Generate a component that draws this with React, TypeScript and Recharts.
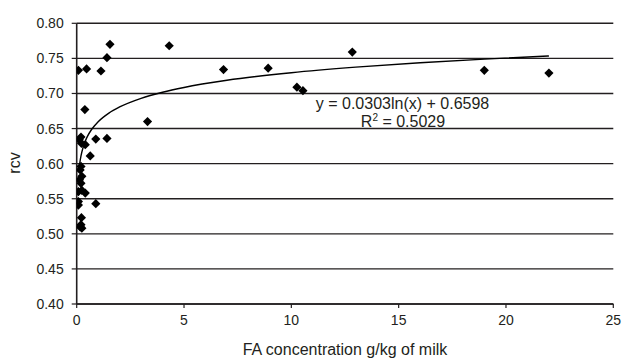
import React from "react";
import { ScatterChart, Scatter, XAxis, YAxis, CartesianGrid, Label } from "recharts";

const faConcentration = [
  0.08, 0.46, 1.13, 1.41, 1.55, 4.31, 0.38, 3.3, 0.2, 0.12, 0.4, 0.89, 1.41, 0.63, 0.22,
  0.2, 0.16, 0.24, 0.13, 0.2, 0.08, 0.24, 0.4, 0.08, 0.08, 0.89, 0.22, 0.2, 0.24, 0.16,
  6.84, 8.92, 10.26, 10.54, 12.84, 18.99, 22.0,
];
const rcvValues = [
  0.733, 0.735, 0.732, 0.751, 0.77, 0.768, 0.677, 0.66, 0.638, 0.634, 0.627, 0.635, 0.636, 0.611, 0.629,
  0.596, 0.591, 0.582, 0.577, 0.572, 0.56, 0.562, 0.558, 0.546, 0.541, 0.543, 0.523, 0.513, 0.508, 0.51,
  0.734, 0.736, 0.709, 0.704, 0.759, 0.733, 0.729,
];

const trendX = [0.1, 0.12, 0.15, 0.2, 0.3, 0.4, 0.5, 0.7, 1, 1.5, 2, 3, 4, 5, 7, 10, 13, 16, 19, 22];
const trendY = [
  0.59, 0.5956, 0.6023, 0.611, 0.6233, 0.632, 0.6388, 0.649, 0.6598, 0.6721, 0.6808, 0.6931,
  0.7018, 0.7086, 0.7188, 0.7296, 0.7375, 0.7438, 0.749, 0.7535,
];

const xTicks = [0, 5, 10, 15, 20, 25];
const yTicks = [0.4, 0.45, 0.5, 0.55, 0.6, 0.65, 0.7, 0.75, 0.8];

const equationText = "y = 0.0303ln(x) + 0.6598";
const r2Text = "= 0.5029";

const points = faConcentration.map((x, i) => ({ x, y: rcvValues[i] }));
const trend = trendX.map((x, i) => ({ x, y: trendY[i] }));

const FONT = "'Liberation Sans', Arial, Helvetica, sans-serif";
const INK = "#231f20";

const Diamond = (props: any) => {
  const { cx, cy } = props;
  if (cx == null || cy == null) return <g />;
  const r = 4.6;
  return (
    <path
      d={`M${cx},${cy - r}L${cx + r},${cy}L${cx},${cy + r}L${cx - r},${cy}Z`}
      fill="#000"
    />
  );
};

const NoDot = () => <g />;

export default function App() {
  return (
    <div style={{ position: "absolute", left: 0, top: 0, background: "#fff" }}>
      <ScatterChart
        width={622}
        height={358}
        margin={{ top: 23.3, right: 8.7, bottom: 24, left: 0 }}
        style={{ fontFamily: FONT }}
      >
        <CartesianGrid horizontal vertical={false} stroke={INK} strokeWidth={1.4} />
        <XAxis
          type="number"
          dataKey="x"
          height={30}
          domain={[0, 25]}
          ticks={xTicks}
          interval={0}
          allowDataOverflow
          tickSize={4}
          tickMargin={7}
          axisLine={{ stroke: INK, strokeWidth: 1.6 }}
          tickLine={{ stroke: INK, strokeWidth: 1.2 }}
          tick={{ fill: INK, fontSize: 14, fontFamily: FONT }}
        >
          <Label
            content={() => (
              <text
                x={345}
                y={355}
                textAnchor="middle"
                fill={INK}
                fontSize={16}
                fontFamily={FONT}
              >
                FA concentration g/kg of milk
              </text>
            )}
          />
        </XAxis>
        <YAxis
          type="number"
          dataKey="y"
          width={76.7}
          domain={[0.4, 0.8]}
          ticks={yTicks}
          interval={0}
          allowDataOverflow
          tickSize={5}
          tickMargin={8}
          tickFormatter={(v: number) => v.toFixed(2)}
          axisLine={{ stroke: INK, strokeWidth: 1.6 }}
          tickLine={{ stroke: INK, strokeWidth: 1.2 }}
          tick={{ fill: INK, fontSize: 14, fontFamily: FONT }}
        >
          <Label
            content={() => (
              <text
                x={20}
                y={163}
                transform="rotate(-90 20 163)"
                textAnchor="middle"
                fill={INK}
                fontSize={16}
                fontFamily={FONT}
              >
                rcv
              </text>
            )}
          />
        </YAxis>
        <Scatter
          data={trend}
          line={{ stroke: "#000", strokeWidth: 1.4 }}
          lineType="joint"
          lineJointType="monotoneX"
          shape={NoDot}
          isAnimationActive={false}
        />
        <Scatter data={points} shape={Diamond} isAnimationActive={false} />
        <text x={402.5} y={108.5} textAnchor="middle" fill={INK} fontSize={16} fontFamily={FONT}>
          {equationText}
        </text>
        <text x={403} y={126.5} textAnchor="middle" fill={INK} fontSize={16} fontFamily={FONT}>
          R<tspan fontSize={10} dy={-6}>2</tspan>
          <tspan dy={6}> {r2Text}</tspan>
        </text>
      </ScatterChart>
    </div>
  );
}
